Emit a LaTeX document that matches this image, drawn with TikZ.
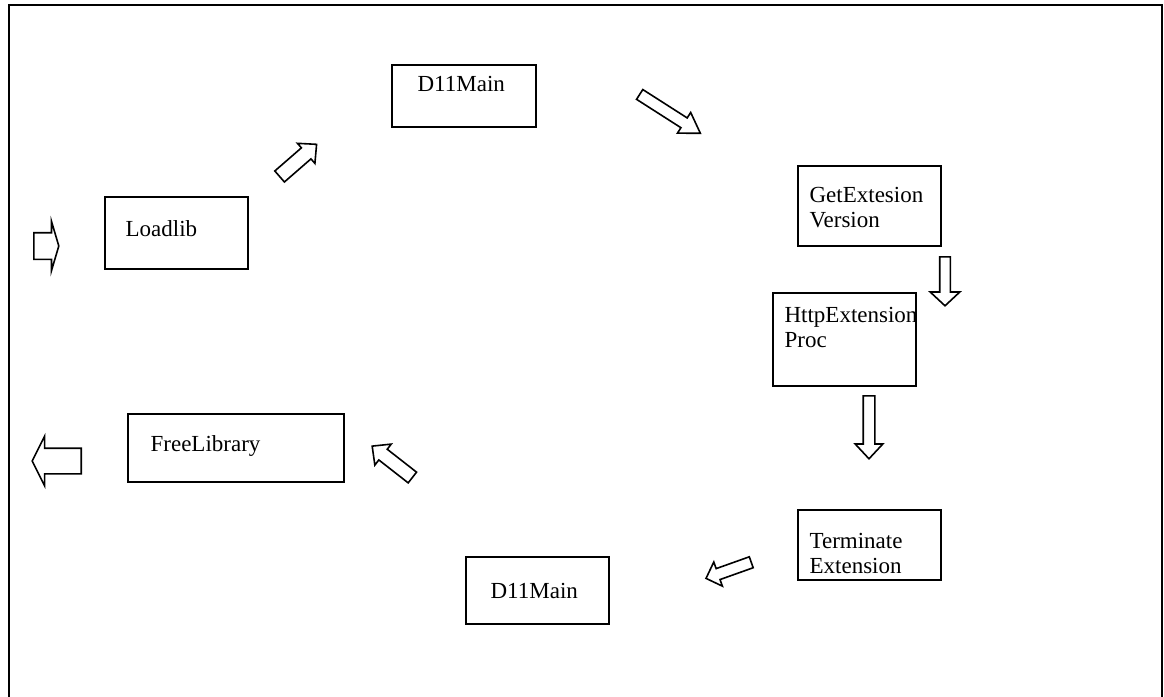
\documentclass[tikz,border=0pt]{standalone}
\usepackage{fontspec}
\setmainfont{Liberation Serif}
\usetikzlibrary{shapes.arrows}

\begin{document}
\begin{tikzpicture}[x=0.5pt,y=-0.5pt]
	\tikzstyle{box}=[rectangle, draw=black, line width=0.8pt, minimum width=71.5pt, inner sep=0pt]
	\tikzstyle{txt}=[font=\fontsize{11.5}{12.5}\selectfont, align=left, anchor=west, inner sep=0pt]
	\tikzstyle{blockarrow}=[single arrow, draw=black, line width=0.8pt, inner sep=0pt, minimum width=0pt, anchor=tail]
	\useasboundingbox (0,0) rectangle (1164,697);
	\draw[line width=1pt] (9,697) -- (9,5) -- (1162,5) -- (1162,697);
	% boxes
	\node[box, minimum height=36pt] (loadlib) at (176.5,233) [label={[txt, xshift=10.5pt, yshift=2pt]west:Loadlib}] {};
	\node[box, minimum width=72pt, minimum height=31pt] (mainA) at (464,96) [label={[txt, xshift=13pt, yshift=6pt]west:D11Main}] {};
	\node[box, minimum height=40pt] (getext) at (869.5,206) [label={[txt, xshift=6pt, yshift=-1pt]west:{GetExtesion\\Version}}] {};
	\node[box, minimum height=46.5pt] (httpext) at (844.5,339.5) [label={[txt, xshift=6pt, yshift=6pt]west:{HttpExtension\\Proc}}] {};
	\node[box, minimum height=35pt] (term) at (869.5,545) [label={[txt, xshift=6pt, yshift=-4pt]west:{Terminate\\Extension}}] {};
	\node[box, minimum height=33.5pt] (mainB) at (537.5,590.5) [label={[txt, xshift=12.5pt]west:D11Main}] {};
	\node[box, minimum width=108pt, minimum height=34pt] (freelib) at (236,448) [label={[txt, xshift=11.5pt, yshift=1pt]west:FreeLibrary}] {};
	% arrows
	\node[blockarrow, minimum height=12.5pt, inner ysep=6.25pt, single arrow head extend=5.75pt, single arrow tip angle=147] (enter) at (33,246) {};
	\node[blockarrow, rotate=41, minimum height=24.5pt, inner ysep=3.25pt, single arrow head extend=3pt, single arrow tip angle=88] (load2main) at (279,177) {};
	\node[blockarrow, rotate=-32.6, minimum height=36pt, inner ysep=2.5pt, single arrow head extend=3.25pt, single arrow tip angle=65] (main2get) at (639,94) {};
	\node[blockarrow, rotate=-90, minimum height=24.5pt, inner ysep=2.25pt, single arrow head extend=4.75pt, single arrow tip angle=94] (get2http) at (945,256) {};
	\node[blockarrow, rotate=-90, minimum height=31.5pt, inner ysep=2.5pt, single arrow head extend=4pt, single arrow tip angle=86] (http2term) at (869,395) {};
	\node[blockarrow, rotate=199.6, minimum height=24pt, inner ysep=2.5pt, single arrow head extend=3.5pt, single arrow tip angle=90] (term2main) at (752,562) {};
	\node[blockarrow, rotate=142, minimum height=25.5pt, inner ysep=3pt, single arrow head extend=3.25pt, single arrow tip angle=88] (main2free) at (413,478) {};
	\node[blockarrow, rotate=180, minimum height=24.5pt, inner ysep=6pt, single arrow head extend=6pt, single arrow tip angle=127] (leave) at (82,461) {};
\end{tikzpicture}
\end{document}
